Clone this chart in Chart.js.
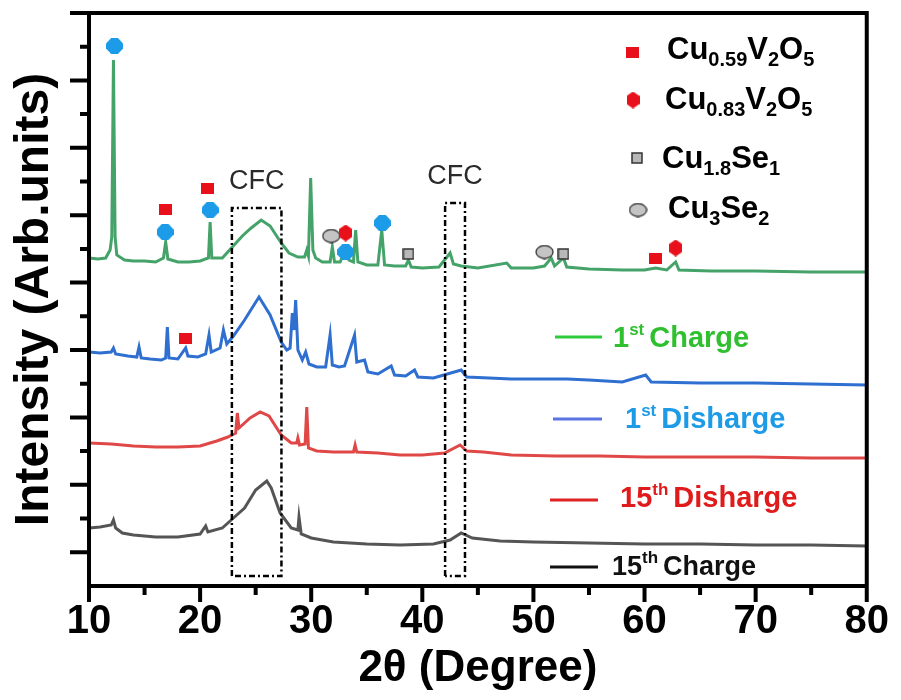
<!DOCTYPE html>
<html><head><meta charset="utf-8">
<script src="https://cdn.jsdelivr.net/npm/chart.js@4.4.1/dist/chart.umd.min.js"></script>
<style>html,body{margin:0;padding:0;background:#fff;}#wrap{width:901px;height:700px;}</style>
</head><body><div id="wrap"><canvas id="c" width="901" height="700"></canvas></div>
<script>
// ---------- DATA (2θ in degrees, intensity in arbitrary stacked units) ----------
const xTickLabels = [10, 20, 30, 40, 50, 60, 70, 80];

const charge1st = [
  [10.0,328],[10.8,327],[11.5,328],[11.9,336],[12.05,349],[12.2,526],[12.35,349],[12.5,331],[13.2,326],[14.0,325],
  [15.0,325],[16.0,324],[16.7,328],[16.9,344],[17.1,327],[18.0,324],[19.0,324],[20.0,325],[20.75,328],[20.9,364],
  [21.05,328],[22.0,328],[22.9,339],[23.8,350],[24.6,358],[25.5,366],[26.3,360],[27.3,343],[28.0,333],[28.8,329],
  [29.4,329],[29.6,336],[29.75,330],[29.95,408],[30.15,336],[30.4,328],[31.0,324],[31.7,324],[31.9,339],[32.1,324],
  [32.6,324],[33.0,334],[33.4,326],[33.8,324],[34.0,356],[34.2,324],[35.0,321],[36.0,321],[36.35,356],[36.6,321],
  [37.5,320],[38.5,320],[38.75,326],[39.0,319],[40.0,318],[41.5,319],[42.5,333],[42.8,322],[43.5,320],[45.0,318],
  [47.6,323],[48.0,318],[50.0,318],[51.0,320],[51.6,328],[51.9,320],[52.7,328],[53.0,319],[55.0,317],[58.0,316],
  [60.0,316],[61.0,318],[62.0,316],[62.8,324],[63.1,316],[66.0,315],[70.0,315],[75.0,314],[80.0,314]
];
const discharge1st = [
  [10.0,234],[11.0,233],[12.0,234],[12.2,238],[12.4,232],[13.5,230],[14.3,229],[14.5,239],[14.7,228],[15.5,227],
  [16.5,226],[16.9,228],[17.05,259],[17.2,228],[18.0,227],[18.7,238],[18.9,230],[19.8,229],[20.5,232],[20.8,251],
  [21.0,234],[21.8,238],[22.1,256],[22.4,242],[23.0,250],[24.0,266],[25.3,289],[26.3,271],[27.3,244],[27.8,236],
  [28.1,238],[28.3,273],[28.45,256],[28.6,286],[28.8,236],[29.2,226],[29.5,234],[29.8,222],[30.5,219],[31.3,219],
  [31.7,251],[31.9,221],[32.5,219],[33.0,220],[33.9,251],[34.1,224],[34.8,226],[35.1,214],[36.0,212],[37.2,220],
  [37.5,211],[38.5,210],[39.3,216],[39.6,209],[41.0,208],[43.5,216],[44.0,209],[46.0,208],[48.0,207],[50.0,207],
  [53.0,207],[55.0,206],[58.0,204],[60.1,211],[60.6,204],[65.0,203],[70.0,203],[75.0,202],[80.0,201]
];
const discharge15th = [
  [10.0,143],[12.0,142],[14.0,140],[16.0,139],[18.0,139],[20.0,140],[21.5,145],[22.5,149],[23.2,153],[23.35,173],
  [23.5,158],[24.5,168],[25.4,174],[26.2,170],[27.3,151],[28.2,143],[28.7,143],[28.8,148],[28.95,141],[29.45,142],
  [29.6,179],[29.75,138],[30.5,135],[32.0,134],[33.8,134],[33.95,141],[34.1,134],[36.0,133],[38.0,131],[40.0,131],
  [42.0,133],[43.4,141],[44.0,135],[45.5,134],[48.0,131],[52.0,130],[56.0,130],[60.0,129],[65.0,129],[70.0,129],
  [75.0,128],[80.0,128]
];
const charge15th = [
  [10.0,58],[11.0,59],[12.0,61],[12.2,66],[12.4,58],[13.0,53],[14.0,51],[16.0,49],[18.0,49],[20.0,52],
  [20.5,60],[20.7,54],[22.0,58],[23.0,68],[24.0,78],[25.0,96],[26.0,105],[26.4,98],[27.2,73],[28.2,58],
  [28.8,56],[28.9,69],[29.1,52],[30.0,48],[32.0,44],[35.0,42],[38.0,41],[41.0,42],[42.5,46],[43.5,53],
  [44.5,48],[47.0,45],[50.0,44],[55.0,43],[60.0,42],[65.0,42],[70.0,41],[75.0,41],[80.0,40]
];

// phase markers (2θ, stacked height)
const markBlue      = [[12.3,540],[16.85,354],[20.9,376],[33.1,334],[36.4,363]];
const markCu059V2O5 = [[16.85,377],[20.7,398],[18.7,248],[61.0,328]];
const markCu083V2O5 = [[33.1,353],[62.8,338]];
const markCu18Se1   = [[38.75,332],[52.7,332]];
const markCu3Se2    = [[31.8,350],[51.0,334]];

// CFC regions: [x0, x1, yBottom, yTop]
const cfcBox1 = [22.86, 27.32, 10, 378];
const cfcBox2 = [42.05, 43.84, 10, 383];
const cfcText = 'CFC';

const seriesNames = [['1','st','Charge'],['1','st','Disharge'],['15','th','Disharge'],['15','th','Charge']];
const phaseNames = [
  [['Cu',0],['0.59',1],['V',0],['2',1],['O',0],['5',1]],
  [['Cu',0],['0.83',1],['V',0],['2',1],['O',0],['5',1]],
  [['Cu',0],['1.8',1],['Se',0],['1',1]],
  [['Cu',0],['3',1],['Se',0],['2',1]]
];
const xTitle = '2θ (Degree)';
const yTitle = 'Intensity (Arb.units)';

// ---------- STYLE / LAYOUT ----------
const Y_MAX = 573, Y_STEP = 33.7;
const SANS = "'Liberation Sans', Arial, sans-serif";
const NARROW = "'Liberation Sans Narrow', 'Arial Narrow', 'Liberation Sans', sans-serif";
const pts = a => a.map(p => ({x: p[0], y: p[1]}));
const boxPts = b => pts([[b[0],b[2]],[b[0],b[3]],[b[1],b[3]],[b[1],b[2]],[b[0],b[2]]]);

function mk(w, h, draw) {
  const c = document.createElement('canvas'); c.width = w; c.height = h;
  draw(c.getContext('2d'), w, h); return c;
}
const imgRedRect = mk(13, 11, (g,w,h) => { g.fillStyle = '#e8101a'; g.fillRect(0,0,w,h); });
const imgRedHex = mk(13, 17, (g,w,h) => {
  g.fillStyle = '#e8101a'; g.beginPath();
  g.moveTo(w/2,0); g.lineTo(w,h*0.27); g.lineTo(w,h*0.73); g.lineTo(w/2,h); g.lineTo(0,h*0.73); g.lineTo(0,h*0.27);
  g.closePath(); g.fill();
});
const imgGraySq = mk(12, 12, (g,w,h) => { g.fillStyle = '#b8b8b8'; g.fillRect(1,1,w-2,h-2); g.strokeStyle = '#333'; g.lineWidth = 1.5; g.strokeRect(1,1,w-2,h-2); });
const imgGrayEll = mk(19, 15, (g,w,h) => { g.fillStyle = '#c4c4c4'; g.strokeStyle = '#333'; g.lineWidth = 1.3; g.beginPath(); g.ellipse(w/2,h/2,w/2-1,h/2-1,0,0,Math.PI*2); g.fill(); g.stroke(); });
const imgBlue = mk(17, 16, (g,w,h) => {
  g.fillStyle = '#1c9be8'; g.beginPath();
  g.moveTo(w*0.3,0); g.lineTo(w*0.7,0); g.lineTo(w,h*0.35); g.lineTo(w,h*0.65); g.lineTo(w*0.7,h); g.lineTo(w*0.3,h); g.lineTo(0,h*0.65); g.lineTo(0,h*0.35);
  g.closePath(); g.fill();
});

function rich(ctx, x, y, parts) {
  for (const [t, size, dy, color] of parts) {
    ctx.font = `bold ${size}px ${SANS}`;
    ctx.fillStyle = color;
    ctx.fillText(t, x, y + dy);
    x += ctx.measureText(t).width;
  }
  return x;
}

const decor = {
  id: 'decor',
  afterDraw(chart) {
    const {ctx, chartArea: ca, scales: {x, y}} = chart;
    ctx.save();
    ctx.strokeStyle = '#000'; ctx.lineWidth = 4; ctx.lineCap = 'butt';
    ctx.beginPath();
    ctx.moveTo(ca.left - 19, ca.top); ctx.lineTo(ca.right + 2, ca.top);
    ctx.moveTo(ca.right, ca.top); ctx.lineTo(ca.right, ca.bottom + 2);
    ctx.moveTo(ca.left, ca.top); ctx.lineTo(ca.left, ca.bottom + 2);
    ctx.moveTo(ca.left - 2, ca.bottom); ctx.lineTo(ca.right + 2, ca.bottom);
    for (let v = 10; v <= 80; v += 5) {
      const px = x.getPixelForValue(v);
      ctx.moveTo(px, ca.bottom); ctx.lineTo(px, ca.bottom + (v % 10 === 0 ? 16 : 9));
    }
    for (let k = 1; k <= 16; k++) {
      const py = y.getPixelForValue(Y_MAX - k * Y_STEP);
      ctx.moveTo(ca.left, py); ctx.lineTo(ca.left - (k % 2 === 0 ? 19 : 9), py);
    }
    ctx.stroke();

    // CFC labels
    ctx.font = `27px ${SANS}`; ctx.fillStyle = '#2a2a2a'; ctx.textAlign = 'center'; ctx.textBaseline = 'middle';
    ctx.fillText(cfcText, x.getPixelForValue((cfcBox1[0] + cfcBox1[1]) / 2), y.getPixelForValue(cfcBox1[3] + 26));
    ctx.fillText(cfcText, x.getPixelForValue((cfcBox2[0] + cfcBox2[1]) / 2), y.getPixelForValue(cfcBox2[3] + 26));

    // phase legend (top right)
    ctx.textAlign = 'left'; ctx.textBaseline = 'alphabetic';
    const phaseImgs = [imgRedRect, imgRedHex, imgGraySq, imgGrayEll];
    const phaseRows = [[632, 52, 667, 59], [633, 100, 665, 109], [637, 158, 662, 168], [638, 210, 668, 218]];
    phaseNames.forEach((segs, i) => {
      const [mx, my, tx, ty] = phaseRows[i];
      const im = phaseImgs[i];
      ctx.drawImage(im, mx - im.width / 2, my - im.height / 2);
      rich(ctx, tx, ty, segs.map(([t, sub]) => sub ? [t, 20, 7, '#000'] : [t, 31, 0, '#000']));
    });

    // series legend
    const sRows = [
      [555, 602, 337, '#2ecc3a', 613, 347, '#2fbf2f'],
      [553, 602, 419, '#5a74e2', 625, 428, '#1e9be6'],
      [550, 598, 500, '#e02222', 620, 507, '#e01b1b'],
      [550, 598, 567, '#111111', 612, 575, '#111111']
    ];
    seriesNames.forEach((n, i) => {
      const [x0, x1, ly, lc, tx, ty, tc] = sRows[i];
      ctx.strokeStyle = lc; ctx.lineWidth = 3;
      ctx.beginPath(); ctx.moveTo(x0, ly); ctx.lineTo(x1, ly); ctx.stroke();
      const fs = i === 3 ? 27 : 29;
      let xx = rich(ctx, tx, ty, [[n[0], fs, 0, tc], [n[1], 17, -12, tc]]);
      rich(ctx, xx + 5, ty, [[n[2], fs, 0, tc]]);
    });
    ctx.restore();
  }
};

const lineDs = (label, data, color) => ({
  label, data: pts(data), borderColor: color, borderWidth: 3, pointRadius: 0, tension: 0, fill: false, order: 2
});
const markDs = (label, data, img) => ({
  label, data: pts(data), showLine: false, pointStyle: img, pointRadius: 8, pointHoverRadius: 8, order: 0
});
const boxDs = (label, b) => ({
  label, data: boxPts(b), borderColor: '#000', borderWidth: 2.5, borderDash: [6, 3, 2, 3], pointRadius: 0, tension: 0, fill: false, order: 1
});

new Chart(document.getElementById('c'), {
  type: 'line',
  data: {
    datasets: [
      lineDs('1st Charge', charge1st, '#45a36a'),
      lineDs('1st Disharge', discharge1st, '#2e6fd0'),
      lineDs('15th Disharge', discharge15th, '#e04848'),
      lineDs('15th Charge', charge15th, '#555555'),
      boxDs('CFC 1', cfcBox1),
      boxDs('CFC 2', cfcBox2),
      markDs('phase (blue)', markBlue, imgBlue),
      markDs('Cu0.59V2O5', markCu059V2O5, imgRedRect),
      markDs('Cu0.83V2O5', markCu083V2O5, imgRedHex),
      markDs('Cu1.8Se1', markCu18Se1, imgGraySq),
      markDs('Cu3Se2', markCu3Se2, imgGrayEll)
    ]
  },
  options: {
    responsive: false, devicePixelRatio: 1, animation: false,
    layout: {padding: {left: 0, right: 28, top: 13, bottom: 0}},
    plugins: {legend: {display: false}, tooltip: {enabled: false}},
    scales: {
      x: {
        type: 'linear', min: 10, max: 80,
        afterFit: s => { s.height = 114; },
        grid: {display: false, drawTicks: false},
        border: {display: false},
        ticks: {
          stepSize: 10, maxRotation: 0, autoSkip: false, padding: 12, color: '#000',
          font: {family: NARROW, size: 40, weight: 'bold'},
          callback: v => xTickLabels.includes(v) ? String(v) : ''
        },
        title: {display: true, text: xTitle, color: '#000', font: {family: SANS, size: 44, weight: 'bold'}, padding: {top: 0, bottom: 5}}
      },
      y: {
        min: 0, max: Y_MAX,
        afterFit: s => { s.width = 89; },
        grid: {display: false, drawTicks: false},
        border: {display: false},
        ticks: {display: false},
        title: {display: true, text: yTitle, color: '#000', font: {family: SANS, size: 48, weight: 'bold'}, padding: {top: 6, bottom: 0}}
      }
    }
  },
  plugins: [decor]
});
</script></body></html>
